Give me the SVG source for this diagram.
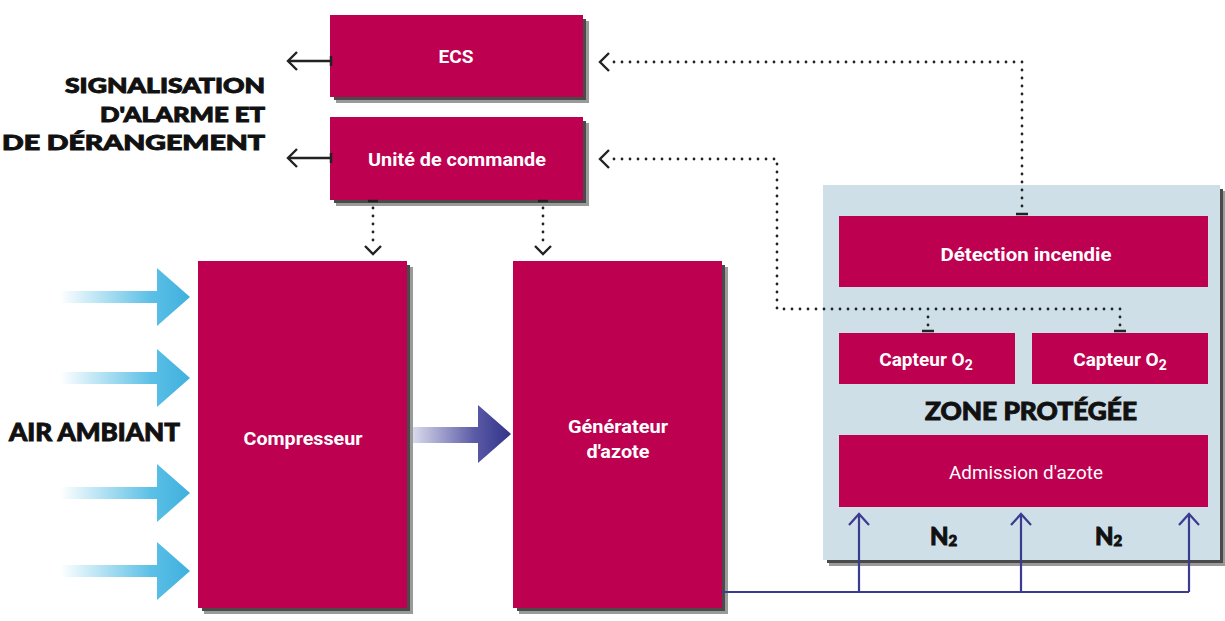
<svg xmlns="http://www.w3.org/2000/svg" width="1225" height="621" viewBox="0 0 1225 621">
<defs>
<linearGradient id="cyan" x1="60" y1="0" x2="190" y2="0" gradientUnits="userSpaceOnUse">
<stop offset="0" stop-color="#ffffff"/>
<stop offset="0.7" stop-color="#5cc0e6"/>
<stop offset="1" stop-color="#3fb0de"/>
</linearGradient>
<linearGradient id="navy" x1="408" y1="0" x2="511" y2="0" gradientUnits="userSpaceOnUse">
<stop offset="0" stop-color="#e4e4f2"/>
<stop offset="0.65" stop-color="#5a5aa6"/>
<stop offset="1" stop-color="#33338a"/>
</linearGradient>
</defs>
<style>
.box{fill:#be0050}
.sh1{fill:#9a9a9a}
.sh2{fill:#4a4a4a}
.lbl{font-family:Roboto,"Liberation Sans",sans-serif;font-weight:bold;font-size:19px;fill:#fff;text-anchor:middle}
.reg{font-family:Roboto,"Liberation Sans",sans-serif;font-size:19px;fill:#fff;text-anchor:middle}
.head{font-family:Lato,"Noto Sans",sans-serif;font-weight:900;fill:#111;stroke:#111;stroke-width:0.9}
.dot{fill:none;stroke:#222;stroke-width:2.8;stroke-dasharray:0 8;stroke-linecap:round}
.sol{fill:none;stroke:#222;stroke-width:2.4}
.chev{fill:none;stroke:#222;stroke-width:2.4}
.tick{stroke:#222;stroke-width:2.5}
.n2{fill:none;stroke:#3b3b8f;stroke-width:2.2}
</style>

<g id="zone">
<rect class="sh1" x="829" y="191" width="397" height="375"/>
<rect class="sh2" x="827" y="189" width="396" height="374"/>
<rect x="823" y="185" width="397" height="375" fill="#cfdfe8"/>
<text class="head" x="1031" y="420" font-size="24" text-anchor="middle" textLength="212" lengthAdjust="spacingAndGlyphs">ZONE PROTÉGÉE</text>
<text class="head" x="930" y="545" font-size="24">N<tspan font-size="15" dy="1">2</tspan></text>
<text class="head" x="1095" y="545" font-size="24">N<tspan font-size="15" dy="1">2</tspan></text>
</g>

<g id="ecs">
<rect class="sh1" x="336" y="21" width="253" height="82"/>
<rect class="sh2" x="334" y="19" width="252" height="81"/>
<rect class="box" x="330" y="15" width="253" height="82"/>
<text class="lbl" x="456" y="63" textLength="35" lengthAdjust="spacingAndGlyphs">ECS</text>
</g>
<g id="unite">
<rect class="sh1" x="336" y="123" width="253" height="83"/>
<rect class="sh2" x="334" y="121" width="252" height="82"/>
<rect class="box" x="330" y="117" width="253" height="83"/>
<text class="lbl" x="457" y="166" textLength="178" lengthAdjust="spacingAndGlyphs">Unité de commande</text>
</g>
<g id="compresseur">
<rect class="sh1" x="204" y="267" width="209" height="347"/>
<rect class="sh2" x="202" y="265" width="208" height="346"/>
<rect class="box" x="198" y="261" width="209" height="347"/>
<text class="lbl" x="303" y="445" textLength="119" lengthAdjust="spacingAndGlyphs">Compresseur</text>
</g>
<g id="generateur">
<rect class="sh1" x="519" y="267" width="209" height="347"/>
<rect class="sh2" x="517" y="265" width="208" height="346"/>
<rect class="box" x="513" y="261" width="209" height="347"/>
<text class="lbl" x="618" y="433" textLength="100" lengthAdjust="spacingAndGlyphs">Générateur</text>
<text class="lbl" x="618" y="458" textLength="63" lengthAdjust="spacingAndGlyphs">d'azote</text>
</g>
<g id="detection">
<rect class="box" x="839" y="216" width="369" height="71"/>
<text class="lbl" x="1026" y="261" textLength="171" lengthAdjust="spacingAndGlyphs">Détection incendie</text>
</g>
<g id="capteur1">
<rect class="box" x="839" y="333" width="176" height="51"/>
<text class="lbl" x="926" y="366" font-size="20">Capteur O<tspan font-size="14" dy="4">2</tspan></text>
</g>
<g id="capteur2">
<rect class="box" x="1032" y="333" width="176" height="51"/>
<text class="lbl" x="1120" y="366" font-size="20">Capteur O<tspan font-size="14" dy="4">2</tspan></text>
</g>
<g id="admission">
<rect class="box" x="839" y="435" width="369" height="72"/>
<text class="reg" x="1026" y="479" textLength="154" lengthAdjust="spacingAndGlyphs">Admission d'azote</text>
</g>

<g id="labels">
<text class="head" x="265" y="93" font-size="20" text-anchor="end" textLength="200" lengthAdjust="spacingAndGlyphs">SIGNALISATION</text>
<text class="head" x="265" y="122" font-size="20" text-anchor="end" textLength="165" lengthAdjust="spacingAndGlyphs">D'ALARME ET</text>
<text class="head" x="265" y="150" font-size="20" text-anchor="end" textLength="263" lengthAdjust="spacingAndGlyphs">DE DÉRANGEMENT</text>
<text class="head" x="9" y="441" font-size="24" textLength="171" lengthAdjust="spacingAndGlyphs">AIR AMBIANT</text>
</g>

<g id="connectors">
<path class="sol" d="M330 61H288"/>
<path class="chev" d="M297 52L288 61L297 70"/>
<path class="tick" d="M331 56V66"/>
<path class="sol" d="M330 158H288"/>
<path class="chev" d="M297 149L288 158L297 167"/>
<path class="tick" d="M331 153V163"/>

<path class="tick" d="M368 201H378"/>
<path class="dot" d="M373 208V248"/>
<path class="chev" d="M365 246L373 254L381 246"/>
<path class="tick" d="M538 201H548"/>
<path class="dot" d="M543 208V248"/>
<path class="chev" d="M535 246L543 254L551 246"/>

<path class="tick" d="M1016 214H1028"/>
<path class="dot" d="M1022 206V62H608"/>
<path class="chev" d="M609 53L600 62L609 71"/>

<path class="dot" d="M1120 325V309H777V159H608"/>
<path class="dot" d="M928 325V309"/>
<path class="chev" d="M609 150L600 159L609 168"/>
<path class="tick" d="M922 331H934"/>
<path class="tick" d="M1114 331H1126"/>

<path fill="url(#cyan)" d="M60 291H157V268L190 297L157 326V303H60Z"/>
<path fill="url(#cyan)" d="M60 372H157V349L190 378L157 407V384H60Z"/>
<path fill="url(#cyan)" d="M60 487H157V464L190 493L157 522V499H60Z"/>
<path fill="url(#cyan)" d="M60 565H157V542L190 571L157 600V577H60Z"/>

<path fill="url(#navy)" d="M413 427H478V405L511 434L478 463V443H413Z"/>

<path class="n2" d="M722 592H1189"/>
<path class="n2" d="M859 592V515M1021 592V515M1189 592V515"/>
<path class="n2" d="M849 525L859 514L869 525M1011 525L1021 514L1031 525M1179 525L1189 514L1199 525"/>
</g>
</svg>
